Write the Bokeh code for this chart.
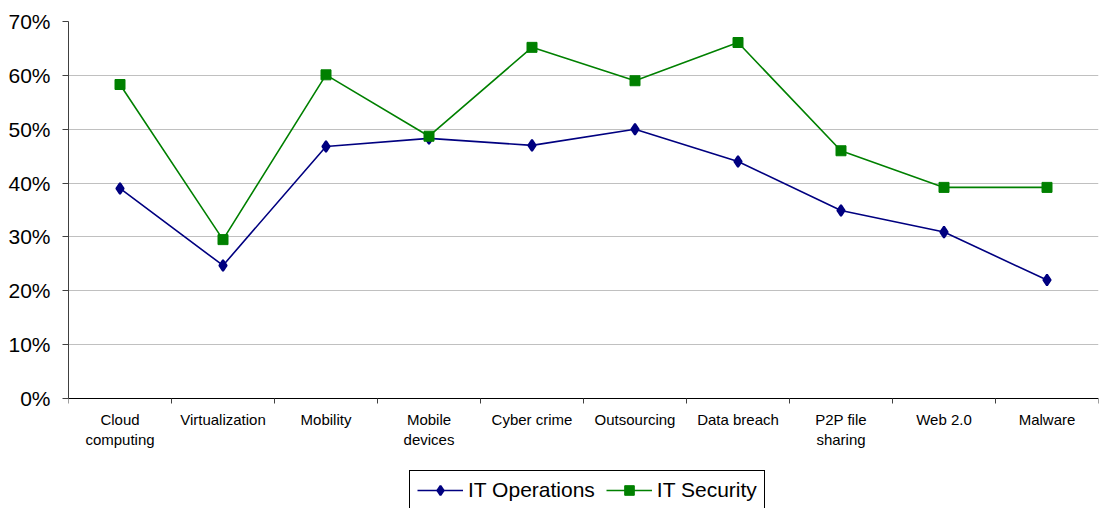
from bokeh.plotting import figure
from bokeh.models import FixedTicker, NumeralTickFormatter, Legend, LegendItem, ColumnDataSource
from bokeh.embed import file_html
from bokeh.resources import INLINE

# Survey concerns by category
categories = ["Cloud\ncomputing", "Virtualization", "Mobility", "Mobile\ndevices", "Cyber crime",
              "Outsourcing", "Data breach", "P2P file\nsharing", "Web 2.0", "Malware"]
it_operations = [0.39, 0.247, 0.468, 0.483, 0.47, 0.50, 0.44, 0.349, 0.309, 0.22]
it_security = [0.583, 0.295, 0.601, 0.487, 0.652, 0.59, 0.661, 0.46, 0.392, 0.392]
y_ticks = [0.0, 0.1, 0.2, 0.3, 0.4, 0.5, 0.6, 0.7]

xpos = [i + 0.5 for i in range(len(categories))]
src = ColumnDataSource(dict(x=xpos, ops=it_operations, sec=it_security))

FONT = "Liberation Sans"
NAVY = "#000080"
GREEN = "#008000"

# The frame runs to the bottom edge so the legend can sit under the category
# labels; the value range below 0 is only room for the labels and legend.
Y_TOP = 0.7
Y_BOTTOM = -Y_TOP * 110 / 377

p = figure(width=1099, height=508, output_backend="svg", toolbar_location=None,
           x_range=(0, len(categories)), y_range=(Y_BOTTOM, Y_TOP),
           min_border_left=68, min_border_right=1, min_border_top=21, min_border_bottom=0)
p.outline_line_color = None
p.background_fill_color = "white"
p.border_fill_color = "white"

# y axis
p.yaxis.ticker = FixedTicker(ticks=y_ticks)
p.yaxis.bounds = (0, Y_TOP)
p.yaxis.formatter = NumeralTickFormatter(format="0%")
p.yaxis.major_label_text_font = FONT
p.yaxis.major_label_text_font_size = "21px"
p.yaxis.major_label_text_color = "black"
p.yaxis.major_tick_out = 6
p.yaxis.major_tick_in = 0
p.yaxis.minor_tick_line_color = None
p.yaxis.axis_line_color = "#404040"
p.yaxis.major_tick_line_color = "#404040"
p.yaxis.major_label_standoff = 12

# x axis at 0: labels at category centres, ticks at category boundaries
p.xaxis.fixed_location = 0
p.xaxis.ticker = FixedTicker(ticks=xpos, minor_ticks=list(range(len(categories) + 1)))
p.xaxis.major_label_overrides = {x: c for x, c in zip(xpos, categories)}
p.xaxis.major_tick_line_color = None
p.xaxis.major_tick_out = 6
p.xaxis.minor_tick_line_color = "#404040"
p.xaxis.minor_tick_out = 5
p.xaxis.minor_tick_in = 0
p.xaxis.axis_line_color = "black"
p.xaxis.major_label_text_font = FONT
p.xaxis.major_label_text_font_size = "15px"
p.xaxis.major_label_text_color = "black"
p.xaxis.major_label_standoff = 6

p.xgrid.grid_line_color = None
p.ygrid.ticker = FixedTicker(ticks=y_ticks)
p.ygrid.grid_line_color = "#c0c0c0"
p.ygrid.grid_line_width = 1

l1 = p.line("x", "ops", source=src, line_color=NAVY, line_width=1.6)
m1 = p.scatter("x", "ops", source=src, marker="diamond", size=11,
               fill_color=NAVY, line_color=NAVY, line_width=2)
l2 = p.line("x", "sec", source=src, line_color=GREEN, line_width=1.6)
m2 = p.scatter("x", "sec", source=src, marker="square", size=10,
               fill_color=GREEN, line_color=GREEN)

legend = Legend(items=[LegendItem(label="IT Operations", renderers=[l1, m1]),
                       LegendItem(label="IT Security", renderers=[l2, m2])],
                orientation="horizontal", location=(341, -2),
                label_text_font=FONT, label_text_font_size="21px", label_text_color="black",
                glyph_width=46, glyph_height=24, label_height=24,
                label_standoff=5, spacing=11,
                padding=7, margin=0, border_line_color="black", border_line_width=1,
                border_line_alpha=1.0,
                background_fill_color="white", background_fill_alpha=1.0)
p.add_layout(legend, "center")

open("out.html", "w").write(file_html(p, INLINE))
